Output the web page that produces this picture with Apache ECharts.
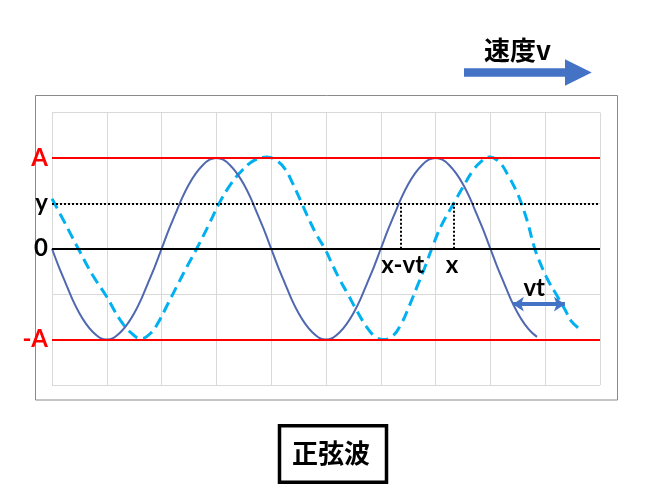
<!DOCTYPE html>
<html><head><meta charset="utf-8">
<script src="https://cdn.jsdelivr.net/npm/echarts@6/dist/echarts.min.js"></script>
<style>html,body{margin:0;padding:0;background:#fff}#c{width:655px;height:497px}</style>
</head><body><div id="c"></div>
<script>
// wave at time 0 (solid) : x in grid units, y in units of A
const solidX = [0,0.125,0.25,0.375,0.5,0.625,0.75,0.875,
  1,1.125,1.25,1.375,1.5,1.625,1.75,1.875,
  2,2.125,2.25,2.375,2.5,2.625,2.75,2.875,
  3,3.125,3.25,3.375,3.5,3.625,3.75,3.875,
  4,4.125,4.25,4.375,4.5,4.625,4.75,4.875,
  5,5.125,5.25,5.375,5.5,5.625,5.75,5.875,
  6,6.125,6.25,6.375,6.5,6.625,6.75,6.875,
  7,7.125,7.25,7.375,7.5,7.625,7.75,7.875,
  8,8.125,8.25,8.375,8.5,8.625,8.75,8.85];
const solidY = [0,-0.2,-0.38,-0.56,-0.71,-0.83,-0.92,-0.98,
  -1,-0.98,-0.92,-0.83,-0.71,-0.56,-0.38,-0.2,
  0,0.2,0.38,0.56,0.71,0.83,0.92,0.98,
  1,0.98,0.92,0.83,0.71,0.56,0.38,0.2,
  0,-0.2,-0.38,-0.56,-0.71,-0.83,-0.92,-0.98,
  -1,-0.98,-0.92,-0.83,-0.71,-0.56,-0.38,-0.2,
  0,0.2,0.38,0.56,0.71,0.83,0.92,0.98,
  1,0.98,0.92,0.83,0.71,0.56,0.38,0.2,
  0,-0.2,-0.38,-0.56,-0.71,-0.83,-0.92,-0.97];
// wave after time t (dashed)
const dashX = [0,0.23,0.48,0.74,0.99,1.24,1.45,1.62,1.80,1.95,2.12,2.29,2.46,2.64,2.85,3.06,3.25,3.45,3.68,3.92,4.10,4.25,4.40,4.55,4.70,4.84,4.98,5.12,5.26,5.40,5.56,5.74,5.90,6.05,6.22,6.38,6.52,6.66,6.80,6.93,7.10,7.34,7.50,7.68,7.83,7.98,8.17,8.33,8.47,8.56,8.68,8.81,8.96,9.08,9.20,9.36,9.48,9.60];
const dashY = [0.55,0.29,0,-0.29,-0.52,-0.78,-0.93,-0.99,-0.93,-0.80,-0.60,-0.40,-0.20,0,0.25,0.51,0.70,0.85,0.97,1.01,0.97,0.88,0.71,0.51,0.31,0.14,0,-0.18,-0.35,-0.50,-0.68,-0.86,-0.97,-1.0,-0.96,-0.82,-0.63,-0.42,-0.21,0,0.25,0.51,0.68,0.86,0.96,1.01,0.95,0.80,0.64,0.51,0.29,0,-0.23,-0.38,-0.50,-0.67,-0.80,-0.87];
// reference levels and tick labels
const levelA = 1;
const levelY = 0.5;
const tickValues = [1, 0.5, 0, -1];
const tickLabels = ['A', 'y', '0', '-A'];
// annotation positions
const xvtPos = 6.36, xPos = 7.34;
const vtFrom = 8.41, vtTo = 9.36, vtLevel = -0.61;
const annotX = [6.40, 7.30, 8.80];
const annotY = [-0.18, -0.18, -0.44];
const annotText = ['x-vt', 'x', 'vt'];
const titleText = '正弦波';
const speedText = '速度v';

const chart = echarts.init(document.getElementById('c'), null, {renderer: 'canvas'});
const zip = (a, b) => a.map((v, i) => [v, b[i]]);
const latin = 'Lato, "Open Sans", sans-serif';
const cjk = '"Noto Sans CJK JP", sans-serif';
const gridLine = {show: true, lineStyle: {color: '#D9D9D9', width: 1}};

chart.setOption({
  animation: false,
  backgroundColor: '#fff',
  grid: {left: 52, right: 55, top: 112.5, bottom: 112, show: false},
  xAxis: {type: 'value', min: 0, max: 10, interval: 1,
    axisLine: {show: false}, axisTick: {show: false}, axisLabel: {show: false}, splitLine: gridLine},
  yAxis: {type: 'value', min: -1.5, max: 1.5, interval: 0.5,
    axisLine: {show: false}, axisTick: {show: false}, splitLine: gridLine,
    axisLabel: {margin: 4, formatter: v => {
        const i = tickValues.findIndex(t => Math.abs(t - v) < 1e-9);
        if (i < 0) return '';
        const t = tickLabels[i];
        return (t.indexOf('A') >= 0 ? '{r|' : '{k|') + t + '}';
      },
      rich: {
        r: {color: '#FF0000', fontSize: 24, fontWeight: 'bold', fontFamily: latin},
        k: {color: '#000000', fontSize: 24, fontWeight: 'bold', fontFamily: latin}
      }}},
  series: [
    {type: 'line', data: [], z: 1, silent: true,
      markLine: {silent: true, symbol: 'none', label: {show: false}, animation: false,
        data: [
          {yAxis: levelA, lineStyle: {color: '#FF0000', width: 2, type: 'solid'}},
          {yAxis: -levelA, lineStyle: {color: '#FF0000', width: 2, type: 'solid'}},
          {yAxis: 0, lineStyle: {color: '#000000', width: 2, type: 'solid'}},
          {yAxis: levelY, lineStyle: {color: '#000000', width: 2, type: [2, 2]}},
          [{coord: [xvtPos, 0]}, {coord: [xvtPos, levelY], lineStyle: {color: '#000', width: 2, type: [2, 2]}}],
          [{coord: [xPos, 0]}, {coord: [xPos, levelY], lineStyle: {color: '#000', width: 2, type: [2, 2]}}]
        ]}},
    {type: 'line', data: zip(solidX, solidY), smooth: 0.3, showSymbol: false, z: 3,
      lineStyle: {color: '#5068B0', width: 2}},
    {type: 'line', data: zip(dashX, dashY), smooth: 0.4, showSymbol: false, z: 2,
      lineStyle: {color: '#00B0F0', width: 3, type: [11, 6]}},
    {type: 'line', data: [], z: 4, silent: true,
      markLine: {silent: true, symbol: ['arrow', 'arrow'], symbolSize: [11, 11], label: {show: false},
        data: [[{coord: [vtFrom, vtLevel]}, {coord: [vtTo, vtLevel]}]],
        lineStyle: {color: '#4472C4', width: 4, type: 'solid'}}},
    {type: 'scatter', symbolSize: 0, z: 5, silent: true,
      data: annotX.map((x, i) => [x, annotY[i], annotText[i]]),
      itemStyle: {opacity: 1},
      label: {show: true, position: 'inside', formatter: p => p.data[2],
        color: '#000', textBorderWidth: 0, textBorderColor: 'transparent', opacity: 1,
        fontSize: 24, fontWeight: 'bold', fontFamily: latin}}
  ],
  graphic: [
    {type: 'rect', shape: {x: 35.5, y: 95.5, width: 582, height: 304.5},
      style: {fill: 'none', stroke: '#8A8A8A', lineWidth: 1}},
    {type: 'polygon', shape: {points: [[464, 68.3], [565, 68.3], [565, 59.3], [591.7, 72.5], [565, 85.7], [565, 76.7], [464, 76.7]]},
      style: {fill: '#4472C4'}},
    {type: 'text', x: 517.5, y: 50, style: {text: speedText, fill: '#000', font: 'bold 26px ' + cjk, align: 'center', verticalAlign: 'middle'}},
    {type: 'rect', shape: {x: 279.5, y: 425.8, width: 107, height: 56.5},
      style: {fill: '#fff', stroke: '#000', lineWidth: 3.5}},
    {type: 'text', x: 331, y: 453.5, style: {text: titleText, fill: '#000', font: 'bold 26px ' + cjk, align: 'center', verticalAlign: 'middle'}}
  ]
});
</script></body></html>
